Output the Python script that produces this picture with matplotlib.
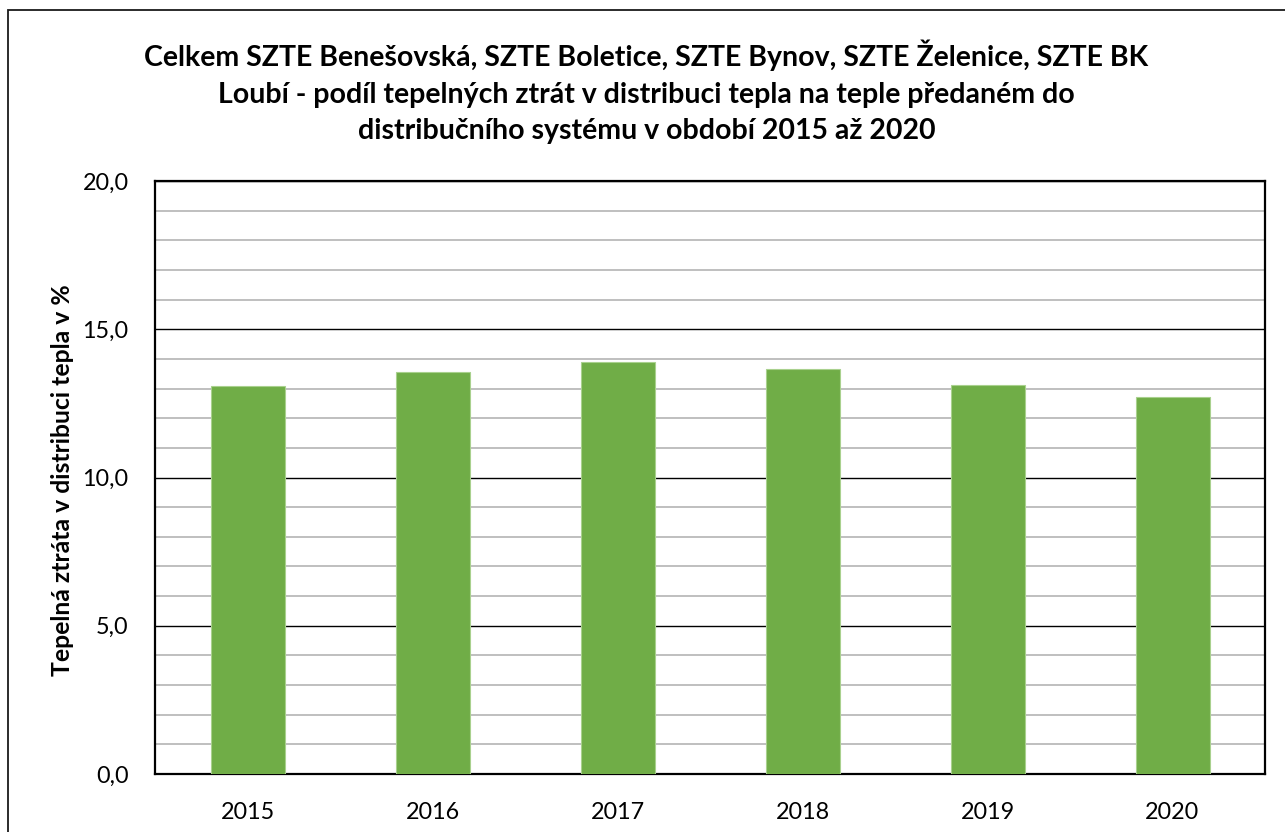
import matplotlib
matplotlib.use("Agg")
import matplotlib.pyplot as plt
from matplotlib.patches import Rectangle
from matplotlib.ticker import MultipleLocator, FuncFormatter

years = ["2015", "2016", "2017", "2018", "2019", "2020"]
loss_pct = [13.09, 13.57, 13.91, 13.65, 13.13, 12.73]

title = ("Celkem SZTE Benešovská, SZTE Boletice, SZTE Bynov, SZTE Želenice, SZTE BK\n"
         "Loubí - podíl tepelných ztrát v distribuci tepla na teple předaném do\n"
         "distribučního systému v období 2015 až 2020")
ylabel = "Tepelná ztráta v distribuci tepla v %"

plt.rcParams["font.family"] = ["Lato", "DejaVu Sans"]

W, H = 1285, 832
fig = plt.figure(figsize=(W / 100, H / 100), dpi=100)

# chart frame (extends past the right and bottom edges)
fig.patches.append(Rectangle((8 / W, -0.05), 1.2, 1 - 10 / H + 0.05,
                             transform=fig.transFigure, fill=False,
                             edgecolor="#1a1a1a", linewidth=1.3))

left, right, top, bottom = 155, 1265, 181, 774
ax = fig.add_axes([left / W, 1 - bottom / H, (right - left) / W, (bottom - top) / H])

x = range(len(years))
ax.bar(x, loss_pct, width=0.4, color="#70AD47", edgecolor="#a9d18e",
       linewidth=0.8, zorder=3)

ax.set_xlim(-0.5, len(years) - 0.5)
ax.set_ylim(0, 20)
ax.yaxis.set_major_locator(MultipleLocator(5))
ax.yaxis.set_minor_locator(MultipleLocator(1))
ax.yaxis.set_major_formatter(FuncFormatter(lambda v, p: f"{v:.1f}".replace(".", ",")))
ax.grid(axis="y", which="minor", color="#bfbfbf", linewidth=1.4, zorder=1)
ax.grid(axis="y", which="major", color="black", linewidth=1.0, zorder=2)
ax.set_xticks(list(x))
ax.set_xticklabels(years)
ax.tick_params(axis="both", which="both", length=0, labelsize=16.8)
ax.tick_params(axis="y", pad=19)
ax.tick_params(axis="x", pad=20)
for s in ax.spines.values():
    s.set_linewidth(1.6)
    s.set_color("black")

fig.text(0.5 + 8 / W / 2, 1 - 92 / H, title, ha="center", va="center",
         fontsize=20.5, fontweight="bold", linespacing=1.5)
fig.text(63 / W, 1 - 480 / H, ylabel, rotation=90, ha="center", va="center",
         fontsize=17.8, fontweight="bold")

fig.savefig("out.png", dpi=100)
